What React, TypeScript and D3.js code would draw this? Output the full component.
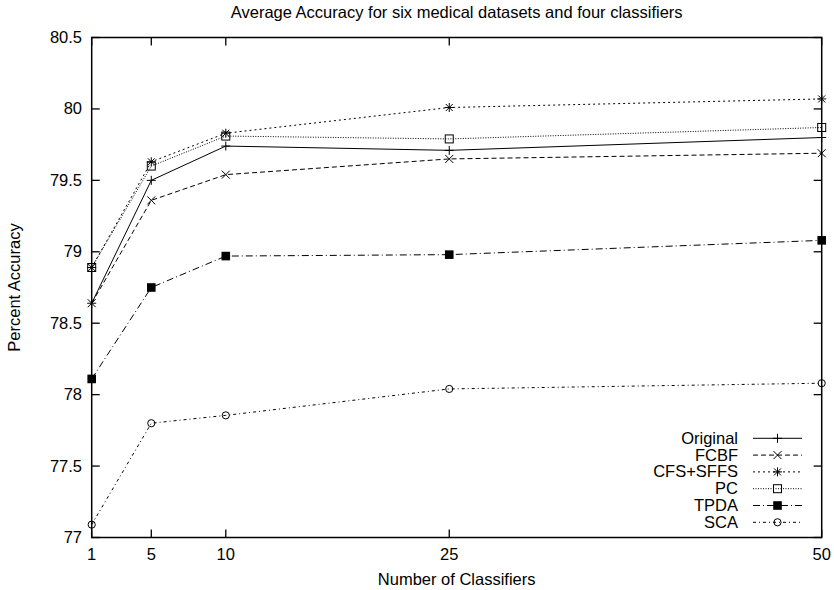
import React from "react";
import * as d3 from "d3";

const xValues = [1, 5, 10, 25, 50];
const xTicks = [1, 5, 10, 25, 50];
const yTicks = [77, 77.5, 78, 78.5, 79, 79.5, 80, 80.5];
const yTickLabels = ["77", "77.5", "78", "78.5", "79", "79.5", "80", "80.5"];

const seriesNames = ["Original", "FCBF", "CFS+SFFS", "PC", "TPDA", "SCA"];
const originalValues = [78.64, 79.5, 79.74, 79.71, 79.8];
const fcbfValues = [78.64, 79.36, 79.54, 79.65, 79.69];
const cfsValues = [78.89, 79.63, 79.83, 80.01, 80.07];
const pcValues = [78.89, 79.6, 79.81, 79.79, 79.87];
const tpdaValues = [78.11, 78.75, 78.97, 78.98, 79.08];
const scaValues = [77.09, 77.8, 77.855, 78.04, 78.08];

const seriesValues = [originalValues, fcbfValues, cfsValues, pcValues, tpdaValues, scaValues];
const markers = ["plus", "cross", "star", "square", "fsquare", "circle"];
const dashes = ["none", "5,3", "2,3", "1,1.5", "7,3,1,3", "3,3,1,3"];

const W = 834;
const H = 590;
const left = 91.7;
const right = 821.7;
const top = 37.5;
const bottom = 537.5;
const FONT = "'Liberation Sans', Arial, Helvetica, sans-serif";
const FS = 16.5;

function Marker({ kind, x, y }: { kind: string; x: number; y: number }) {
  const s = 4.5;
  const st = { stroke: "#000", strokeWidth: 1, fill: "none" };
  if (kind === "plus")
    return (
      <path d={`M${x - s},${y}H${x + s}M${x},${y - s}V${y + s}`} {...st} />
    );
  if (kind === "cross")
    return (
      <path d={`M${x - 4},${y - 4}L${x + 4},${y + 4}M${x - 4},${y + 4}L${x + 4},${y - 4}`} {...st} />
    );
  if (kind === "star")
    return (
      <path
        d={`M${x - s},${y}H${x + s}M${x},${y - s}V${y + s}M${x - 3.5},${y - 3.5}L${x + 3.5},${y + 3.5}M${x - 3.5},${y + 3.5}L${x + 3.5},${y - 3.5}`}
        {...st}
      />
    );
  if (kind === "square")
    return <rect x={x - 4} y={y - 4} width={8} height={8} {...st} />;
  if (kind === "fsquare")
    return <rect x={x - 4.3} y={y - 4.3} width={8.6} height={8.6} fill="#000" />;
  return <circle cx={x} cy={y} r={3.6} {...st} />;
}

export default function App() {
  const x = d3.scaleLinear().domain([1, 50]).range([left, right]);
  const y = d3.scaleLinear().domain([77, 80.5]).range([bottom, top]);
  const line = d3
    .line<number>()
    .x((_, i) => x(xValues[i]))
    .y((d) => y(d));

  const legX1 = 753;
  const legX2 = 802;
  const legTextX = 738;
  const legY0 = 438.3;
  const legStep = 16.8;
  const tick = 8;

  return (
    <svg
      width={W}
      height={H}
      style={{ position: "absolute", left: 0, top: 0, background: "#fff" }}
      fontFamily={FONT}
    >
      <rect x={0} y={0} width={W} height={H} fill="#fff" />
      <text x={(left + right) / 2} y={18} textAnchor="middle" fontSize={FS} fill="#000">
        Average Accuracy for six medical datasets and four classifiers
      </text>

      {yTicks.map((t, i) => (
        <g key={"y" + i}>
          <line x1={left} x2={left + tick} y1={y(t)} y2={y(t)} stroke="#000" strokeWidth={1.3} />
          <line x1={right} x2={right - tick} y1={y(t)} y2={y(t)} stroke="#000" strokeWidth={1.3} />
          <text x={82} y={y(t) + 5.5} textAnchor="end" fontSize={FS} fill="#000">
            {yTickLabels[i]}
          </text>
        </g>
      ))}
      {xTicks.map((t, i) => (
        <g key={"x" + i}>
          <line x1={x(t)} x2={x(t)} y1={bottom} y2={bottom - tick} stroke="#000" strokeWidth={1.3} />
          <line x1={x(t)} x2={x(t)} y1={top} y2={top + tick} stroke="#000" strokeWidth={1.3} />
          <text x={x(t)} y={560} textAnchor="middle" fontSize={FS} fill="#000">
            {String(t)}
          </text>
        </g>
      ))}

      {seriesValues.map((vals, si) => (
        <g key={"s" + si}>
          <path
            d={line(vals) || ""}
            fill="none"
            stroke="#000"
            strokeWidth={1}
            strokeDasharray={dashes[si] === "none" ? undefined : dashes[si]}
          />
          {vals.map((v, i) => (
            <Marker key={i} kind={markers[si]} x={x(xValues[i])} y={y(v)} />
          ))}
        </g>
      ))}

      <rect
        x={left}
        y={top}
        width={right - left}
        height={bottom - top}
        fill="none"
        stroke="#000"
        strokeWidth={1.5}
      />

      {seriesNames.map((name, si) => {
        const ly = legY0 + si * legStep;
        return (
          <g key={"l" + si}>
            <text x={legTextX} y={ly + 5.5} textAnchor="end" fontSize={FS} fill="#000">
              {name}
            </text>
            <line
              x1={legX1}
              x2={legX2}
              y1={ly}
              y2={ly}
              stroke="#000"
              strokeWidth={1}
              strokeDasharray={dashes[si] === "none" ? undefined : dashes[si]}
            />
            <Marker kind={markers[si]} x={(legX1 + legX2) / 2} y={ly} />
          </g>
        );
      })}

      <text x={(left + right) / 2} y={585} textAnchor="middle" fontSize={FS} fill="#000">
        Number of Classifiers
      </text>
      <text
        transform={`translate(20,${(top + bottom) / 2}) rotate(-90)`}
        textAnchor="middle"
        fontSize={FS}
        fill="#000"
      >
        Percent Accuracy
      </text>
    </svg>
  );
}
